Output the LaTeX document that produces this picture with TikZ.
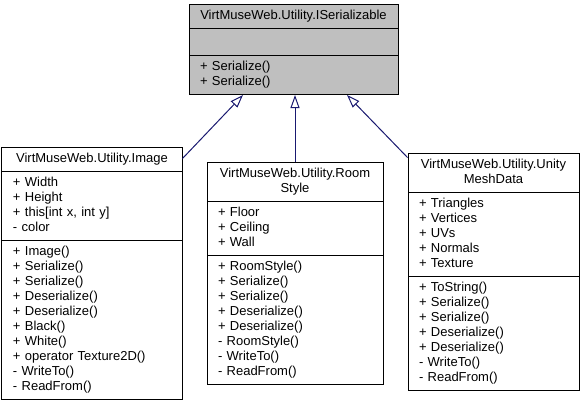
\documentclass[tikz,border=0pt]{standalone}
\usepackage{fontspec}
\setmainfont{Liberation Sans}
\usetikzlibrary{shapes.multipart,positioning,arrows.meta}

\definecolor{basefill}{HTML}{BFBFBF}
\definecolor{edgeblue}{HTML}{191970}
\newcommand{\classfont}{\fontsize{13bp}{15bp}\selectfont}
\newcommand{\ctitle}[1]{\hfill#1\hfill\null}

\tikzset{
  classbox/.style={rectangle split, rectangle split parts=3, draw=black,
    fill=white, line width=1bp, inner xsep=11bp, inner ysep=4bp,
    align=left, font=\classfont, text width=#1},
  basebox/.style={classbox=#1, fill=basefill},
  inherit/.style={edgeblue, line width=1bp,
    -{Triangle[open, length=13bp, width=9bp]}}
}

\begin{document}
\begin{tikzpicture}[x=1bp,y=1bp]
    \useasboundingbox (0,0) rectangle (585,404);
    \node[basebox=187bp, anchor=north] (iser) at (293.5,400)
      {\strut\ctitle{VirtMuseWeb.Utility.ISerializable}\strut
       \nodepart{two}\rule[-4.5bp]{0pt}{18bp}
       \nodepart{three}\strut + Serialize()\\ + Serialize()\strut};
    \node[classbox=158bp] (img) [below left=51.5bp and 6bp of iser]
      {\strut\ctitle{VirtMuseWeb.Utility.Image}\strut
       \nodepart{two}\strut + Width\\ + Height\\ + this[int x, int y]\\ - color\strut
       \nodepart{three}\strut + Image()\\ + Serialize()\\ + Serialize()\\
       + Deserialize()\\ + Deserialize()\\ + Black()\\ + White()\\
       + operator Texture2D()\\ - WriteTo()\\ - ReadFrom()\strut};
    \node[classbox=154bp] (room) [below=66.5bp of iser, xshift=1.5bp]
      {\strut\ctitle{VirtMuseWeb.Utility.Room}\\ \ctitle{Style}\strut
       \nodepart{two}\strut + Floor\\ + Ceiling\\ + Wall\strut
       \nodepart{three}\strut + RoomStyle()\\ + Serialize()\\ + Serialize()\\
       + Deserialize()\\ + Deserialize()\\ - RoomStyle()\\ - WriteTo()\\
       - ReadFrom()\strut};
    \node[classbox=149bp] (unity) [below right=57.5bp and 9bp of iser]
      {\strut\ctitle{VirtMuseWeb.Utility.Unity}\\ \ctitle{MeshData}\strut
       \nodepart{two}\strut + Triangles\\ + Vertices\\ + UVs\\ + Normals\\
       + Texture\strut
       \nodepart{three}\strut + ToString()\\ + Serialize()\\ + Serialize()\\
       + Deserialize()\\ + Deserialize()\\ - WriteTo()\\ - ReadFrom()\strut};
    % generalisation arrows
    \path[inherit]
    ([yshift=-12bp]img.north east) edge ([xshift=-50.5bp]iser.south)
    (room.north) edge (room.north |- iser.south)
    ([yshift=-5bp]unity.north west) edge ([xshift=53.5bp]iser.south);
\end{tikzpicture}
\end{document}
